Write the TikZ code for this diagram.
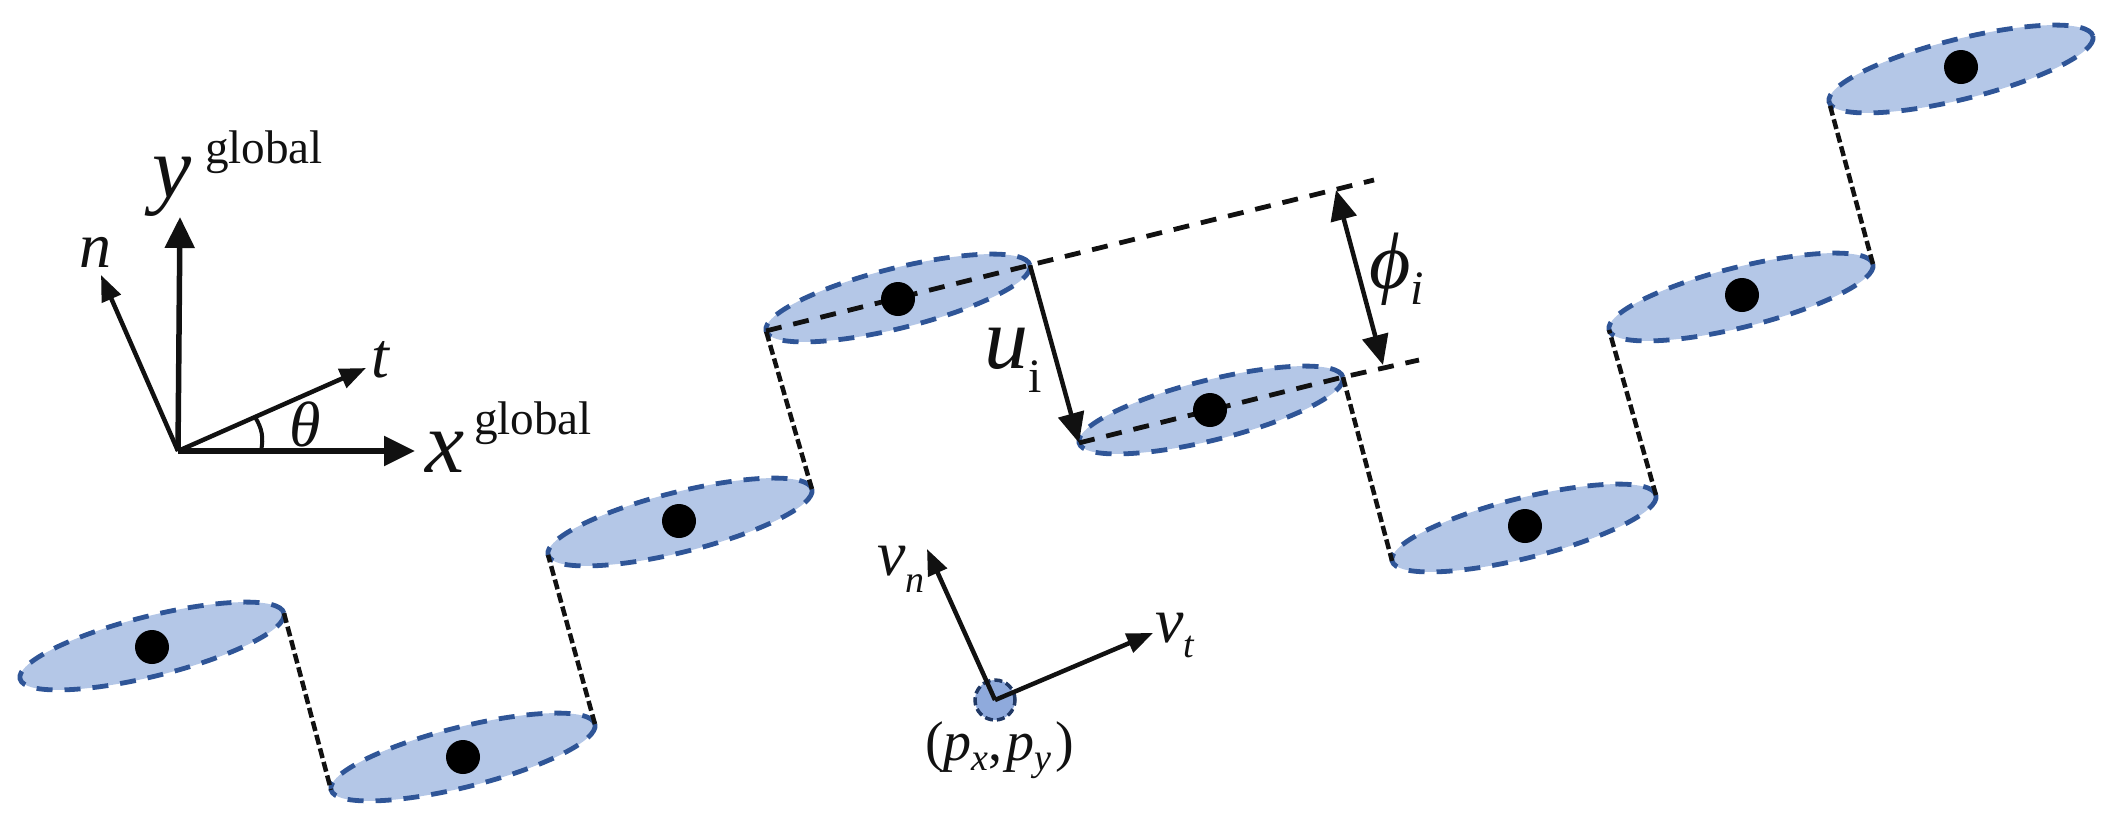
\documentclass[tikz,border=0pt]{standalone}
\usepackage{fontspec}
\setmainfont{Liberation Serif}
\usetikzlibrary{shapes.geometric,arrows.meta}
\definecolor{cellline}{HTML}{2F5597}
\definecolor{cellfill}{HTML}{B4C7E7}
\definecolor{probeline}{HTML}{203864}
\definecolor{probefill}{HTML}{8FAADC}
\definecolor{inkblack}{HTML}{111111}
\newcommand{\upper}[3]{\kern#1pt\raisebox{#2pt}{\fontsize{23.6}{24}\selectfont\upshape #3}}
\newcommand{\lowsub}[3]{\raisebox{-#1pt}{\fontsize{#2}{#2}\selectfont #3}}
\tikzset{
  cell/.style={ellipse, draw=cellline, fill=cellfill, line width=2.4pt, dash pattern=on 8pt off 6pt,
    minimum width=136pt, minimum height=30pt, inner sep=0pt, outer sep=0pt, rotate=14},
  mass/.style={circle, fill=black, minimum size=17pt, inner sep=0pt},
  link/.style={draw=inkblack, line width=2.25pt, dash pattern=on 5pt off 2pt},
  guide/.style={draw=inkblack, line width=2.4pt, dash pattern=on 8pt off 6pt},
  thickarrow/.style={draw=inkblack, line width=2.75pt, -{Triangle[length=15.5pt,width=14.5pt,fill=inkblack]}},
  thinarrow/.style={draw=inkblack, line width=2.25pt, -{Triangle[length=13pt,width=10pt,fill=inkblack]}},
  lbl/.style={anchor=base west, inner sep=0pt, outer sep=0pt, text=inkblack, font=\fontsize{44}{44}\selectfont\itshape},
  midlbl/.style={lbl, font=\fontsize{32}{32}\selectfont\itshape},
  poslbl/.style={lbl, font=\fontsize{28}{28}\selectfont\itshape}
}
\begin{document}
\begin{tikzpicture}[x=0.5pt, y=-0.5pt]
  \useasboundingbox (0,0) rectangle (2109,827);
  % elements
  \node[cell] (e1) at (152,646){};
  \node[cell] (e2) at (463,757){};
  \node[cell] (e3) at (680,522){};
  \node[cell] (e4) at (898,298){};
  \node[cell] (e5) at (1211,410){};
  \node[cell] (e6) at (1524,528){};
  \node[cell] (e7) at (1741,297){};
  \node[cell] (e8) at (1961,69){};
  % dashed chord and gap lines
  \coordinate (topend) at (1374,180);
  \coordinate (lowend) at (1419,360);
  \draw[guide] (e4.west) -- (e4.east) -- (topend);
  \draw[guide] (e5.west) -- (e5.east) -- (lowend);
  % links
  \draw[link] (e1.east) -- (e2.west);
  \draw[link] (e2.east) -- (e3.west);
  \draw[link] (e3.east) -- (e4.west);
  \draw[link] (e5.east) -- (e6.west);
  \draw[link] (e6.east) -- (e7.west);
  \draw[link] (e7.east) -- (e8.west);
  % mass points
  \node[mass] (m1) at (152,647){};
  \node[mass] (m2) at (463,757){};
  \node[mass] (m3) at (679,521){};
  \node[mass] (m4) at (898,299){};
  \node[mass] (m5) at (1210,410){};
  \node[mass] (m6) at (1525,526){};
  \node[mass] (m7) at (1742,295){};
  \node[mass] (m8) at (1961,67){};
  % global axes
  \coordinate (orig) at (178,451);
  \coordinate (xtip) at (415,451);
  \coordinate (ytip) at (180,217);
  \coordinate (ntip) at (101,275);
  \coordinate (ttip) at (366,368);
  \coordinate (arcx) at (261,451);
  \coordinate (arct) at (255,417);
  \draw[thickarrow] (orig) -- (xtip);
  \draw[thickarrow] (orig) -- (ytip);
  \draw[thinarrow] (orig) -- (ntip);
  \draw[thinarrow] (orig) -- (ttip);
  \draw[draw=inkblack, line width=2pt] (arcx) to[bend right=22] (arct);
  \node[lbl] (ylbl) at (152,197) {y\upper{7}{17}{global}};
  \node[lbl] (xlbl) at (425,472) {x\upper{5}{19}{global}};
  \node[midlbl] (nlbl) at (79,267) {n};
  \node[midlbl] (tlbl) at (371,377) {t};
  \node[midlbl] (thetalbl) at (289,446) {θ};
  % relative displacement and gap
  \coordinate (gaptop) at (1336,190);
  \coordinate (gaplow) at (1383,365);
  \draw[thinarrow, -{Triangle[length=15pt,width=13pt,fill=inkblack]}] (e4.east) -- (e5.west);
  \draw[thinarrow, {Triangle[length=15pt,width=13pt,fill=inkblack]}-{Triangle[length=15pt,width=13pt,fill=inkblack]}] (gaptop) -- (gaplow);
  \node[lbl] (ulbl) at (984,368) {u\lowsub{12}{24}{\upshape i}};
  \node[lbl, font=\fontsize{40}{40}\selectfont\itshape] (philbl) at (1369,288) {ϕ\lowsub{8}{24}{i}};
  % probe
  \node[circle, draw=probeline, fill=probefill, line width=1.75pt, dash pattern=on 4pt off 2pt, minimum size=20pt, inner sep=0pt, outer sep=0pt] (probe) at (995,700){};
  \coordinate (vntip) at (927,549);
  \coordinate (vttip) at (1153,633);
  \draw[thinarrow] (probe.center) -- (vntip);
  \draw[thinarrow] (probe.center) -- (vttip);
  \node[midlbl] (vnlbl) at (877,575) {v\lowsub{8.5}{19}{n}};
  \node[midlbl] (vtlbl) at (1155,642) {v\lowsub{7.5}{19}{t}};
  \node[poslbl] (plbl) at (925,760) {\upshape(\itshape p\lowsub{5}{19}{x}\upshape,\kern2pt\itshape p\lowsub{5}{19}{y}\kern2pt\upshape)};
\end{tikzpicture}
\end{document}
